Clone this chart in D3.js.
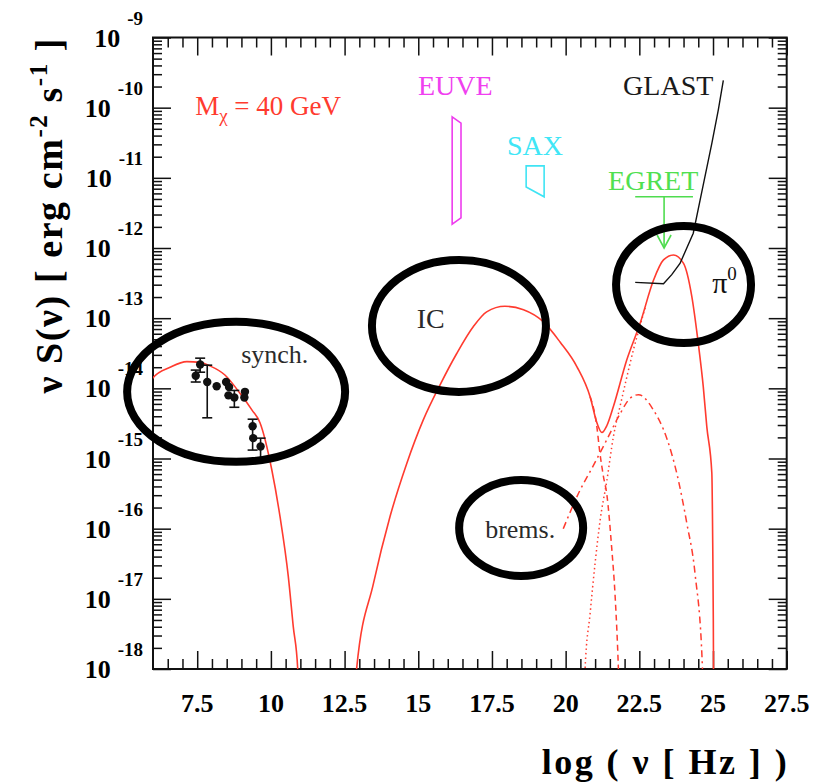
<!DOCTYPE html>
<html>
<head>
<meta charset="utf-8">
<script src="https://cdn.jsdelivr.net/npm/d3@7"></script>
<style>
  body { margin: 0; background: #fff; }
  svg { display: block; }
</style>
</head>
<body>
<div id="chart"></div>
<script>
// SED of a dark matter halo, M_chi = 40 GeV
// all pairs are [log10(nu / Hz), log10(nu S(nu) / erg cm^-2 s^-1)]

const synchCurve = [[5.95,-13.90],[6.0,-13.85],[6.58,-13.70],[7.15,-13.62],[7.59,-13.63],[7.93,-13.68],[8.44,-13.81],[8.95,-14.07],[9.36,-14.31],[9.63,-14.49],[10.03,-15.16],[10.31,-15.83],[10.59,-16.68],[10.76,-17.40],[10.91,-18.0],[10.95,-18.6]];

const totalCurve = [[12.86,-18.3],[12.91,-17.99],[13.48,-16.78],[14.04,-15.83],[14.61,-15.07],[15.17,-14.45],[15.74,-13.95],[16.31,-13.50],[16.87,-13.12],[17.32,-12.91],[17.94,-12.83],[18.57,-12.88],[19.24,-13.05],[19.81,-13.34],[20.38,-13.69],[20.83,-14.12],[21.06,-14.49],[21.23,-14.63],[21.40,-14.53],[21.62,-14.26],[22.07,-13.60],[22.53,-13.07],[22.98,-12.46],[23.32,-12.17],[23.66,-12.10],[24.00,-12.22],[24.28,-12.69],[24.50,-13.36],[24.67,-13.98],[24.79,-14.55],[24.96,-15.21],[24.99,-16.2],[25.01,-17.3],[25.02,-18.3]];

const icTail = [[20.83,-14.12],[21.06,-14.55],[21.15,-14.88],[21.28,-15.25],[21.40,-15.52],[21.56,-16.26],[21.68,-16.97],[21.79,-18.0],[21.82,-18.4]];

const pi0Rise = [[20.62,-18.5],[20.66,-18.0],[20.83,-17.21],[21.00,-16.49],[21.17,-15.88],[21.40,-15.31],[21.62,-14.69],[21.85,-14.25],[22.07,-13.85],[22.30,-13.45],[22.53,-13.10],[22.70,-12.85]];

const bremsCurve = [[19.92,-16.00],[20.49,-15.45],[20.89,-15.14],[21.40,-14.73],[21.85,-14.36],[22.19,-14.14],[22.47,-14.09],[22.98,-14.31],[23.43,-14.71],[23.77,-15.21],[24.11,-15.92],[24.39,-16.64],[24.64,-17.97],[24.67,-18.4]];

// radio data points (synchrotron)
const dataLogNu = [7.45, 7.60, 7.84, 8.16, 8.48, 8.58, 8.56, 8.76, 9.12, 9.10, 9.38, 9.40, 9.65];
const dataLogS  = [-13.82, -13.66, -13.91, -13.97, -13.91, -13.98, -14.10, -14.13, -14.05, -14.13, -14.54, -14.71, -14.83];
const errLo     = [-13.91, -13.77, -14.42, null, null, null, null, -14.27, null, null, -14.88, null, -15.01];
const errHi     = [-13.74, -13.57, -13.67, null, null, null, null, -14.03, null, null, -14.44, null, -14.71];

// instrument sensitivities
const euveBox = [[16.15,-10.13],[16.45,-10.22],[16.45,-11.57],[16.15,-11.66]];
const saxBox = [[18.66,-10.83],[19.27,-10.83],[19.27,-11.27],[18.66,-11.13]];
const egretBar = [[22.36,-11.27],[24.32,-11.27]];
const egretArrow = [[23.34,-11.27],[23.34,-12.0]];
const glastCurve = [[22.36,-12.49],[23.32,-12.51],[23.60,-12.38],[23.88,-12.22],[24.33,-11.79],[24.56,-11.32],[24.96,-10.51],[25.18,-10.03],[25.35,-9.61]];

// axes
const xMajor = [7.5, 10, 12.5, 15, 17.5, 20, 22.5, 25, 27.5];
const xLabels = ['7.5', '10', '12.5', '15', '17.5', '20', '22.5', '25', '27.5'];
const yDecades = [-18, -17, -16, -15, -14, -13, -12, -11, -10, -9];

const W = 825, H = 784;
const P = { left: 153, top: 37.5, right: 786.7, bottom: 669 };
const RED = '#ff3b2f';
const SERIF = '"Liberation Serif", "Times New Roman", serif';

const x = d3.scaleLinear().domain([6, 27.5]).range([P.left, P.right]);
const y = d3.scaleLog().domain([1e-18, 1e-9]).range([P.bottom, P.top]);
const Y = v => y(Math.pow(10, v));

const svg = d3.select('#chart').append('svg')
    .attr('width', W).attr('height', H)
    .style('font-family', SERIF);

svg.append('defs').append('clipPath').attr('id', 'plot-clip')
  .append('rect')
    .attr('x', P.left).attr('y', P.top)
    .attr('width', P.right - P.left).attr('height', P.bottom - P.top);

// ticks
const xMinor = d3.range(6.5, 27.5, 0.5).filter(v => !xMajor.includes(v));
const yMinor = [];
yDecades.slice(0, -1).forEach(d => { for (let k = 2; k <= 9; k++) yMinor.push(k * Math.pow(10, d)); });
const yMajor = yDecades.map(d => Math.pow(10, d));

const axes = svg.append('g').attr('class', 'axes');
function tickAxis(axisFn, scale, values, len, transform) {
    const g = axes.append('g').attr('transform', transform)
        .call(axisFn(scale).tickValues(values).tickSize(-len).tickSizeOuter(0).tickFormat(''));
    g.select('.domain').remove();
    g.selectAll('.tick line').attr('stroke', '#111').attr('stroke-width', 1.5);
}
tickAxis(d3.axisBottom, x, xMinor, 10, `translate(0,${P.bottom})`);
tickAxis(d3.axisBottom, x, xMajor, 18, `translate(0,${P.bottom})`);
tickAxis(d3.axisTop, x, xMinor, 10, `translate(0,${P.top})`);
tickAxis(d3.axisTop, x, xMajor, 18, `translate(0,${P.top})`);
tickAxis(d3.axisLeft, y, yMinor, 9, `translate(${P.left},0)`);
tickAxis(d3.axisLeft, y, yMajor, 18, `translate(${P.left},0)`);
tickAxis(d3.axisRight, y, yMinor, 9, `translate(${P.right},0)`);
tickAxis(d3.axisRight, y, yMajor, 18, `translate(${P.right},0)`);

axes.append('rect')
    .attr('x', P.left).attr('y', P.top)
    .attr('width', P.right - P.left).attr('height', P.bottom - P.top)
    .attr('fill', 'none').attr('stroke', '#111').attr('stroke-width', 2);

// tick labels
xMajor.forEach((v, i) => {
    axes.append('text')
        .attr('x', x(v)).attr('y', 712)
        .attr('text-anchor', 'middle')
        .attr('font-size', 26).attr('font-weight', 700)
        .text(xLabels[i]);
});
yDecades.forEach(d => {
    const t = axes.append('text')
        .attr('x', 143).attr('y', Y(d) + 9)
        .attr('text-anchor', 'end')
        .attr('font-weight', 700);
    t.append('tspan').attr('font-size', 26).text('10');
    t.append('tspan').attr('font-size', 19).attr('dx', 7).attr('dy', -22).text(String(d));
});

// axis titles
axes.append('text')
    .attr('x', P.right).attr('y', 774)
    .attr('text-anchor', 'end')
    .attr('font-size', 36).attr('font-weight', 700)
    .attr('textLength', 245).attr('lengthAdjust', 'spacing')
    .text('log ( ν [ Hz ] )');

const yt = axes.append('text')
    .attr('transform', 'translate(62,216) rotate(-90)')
    .attr('text-anchor', 'middle')
    .attr('font-size', 38).attr('font-weight', 700)
    .attr('textLength', 355).attr('lengthAdjust', 'spacing');
yt.append('tspan').text('ν  S(ν) [ erg  cm');
yt.append('tspan').attr('font-size', 25).attr('dy', -15).text('-2');
yt.append('tspan').attr('dy', 15).text(' s');
yt.append('tspan').attr('font-size', 25).attr('dy', -15).text('-1');
yt.append('tspan').attr('dy', 15).text(' ]');

// curves
const plot = svg.append('g').attr('clip-path', 'url(#plot-clip)');
const smooth = d3.line().x(d => x(d[0])).y(d => Y(d[1])).curve(d3.curveMonotoneX);
const straight = d3.line().x(d => x(d[0])).y(d => Y(d[1]));

plot.append('path').attr('d', smooth(bremsCurve))
    .attr('fill', 'none').attr('stroke', RED).attr('stroke-width', 1.5)
    .attr('stroke-dasharray', '7,4,2,4');
plot.append('path').attr('d', smooth(icTail))
    .attr('fill', 'none').attr('stroke', RED).attr('stroke-width', 1.5)
    .attr('stroke-dasharray', '6,4');
plot.append('path').attr('d', smooth(pi0Rise))
    .attr('fill', 'none').attr('stroke', RED).attr('stroke-width', 1.5)
    .attr('stroke-dasharray', '1.5,3');
[synchCurve, totalCurve].forEach(c => {
    plot.append('path').attr('d', smooth(c))
        .attr('fill', 'none').attr('stroke', RED).attr('stroke-width', 1.6);
});

// instruments
plot.append('path').attr('d', straight(euveBox) + 'Z')
    .attr('fill', 'none').attr('stroke', '#ee3cee').attr('stroke-width', 1.6);
plot.append('path').attr('d', straight(saxBox) + 'Z')
    .attr('fill', 'none').attr('stroke', '#3fe4f4').attr('stroke-width', 1.6);
plot.append('path').attr('d', straight(egretBar))
    .attr('fill', 'none').attr('stroke', '#4fdc4f').attr('stroke-width', 1.6);
plot.append('path').attr('d', straight(egretArrow))
    .attr('fill', 'none').attr('stroke', '#4fdc4f').attr('stroke-width', 1.6);
{
    const [ax, ay] = egretArrow[1];
    const tx = x(ax), ty = Y(ay);
    plot.append('path')
        .attr('d', `M${tx - 7},${ty - 13}L${tx},${ty}L${tx + 7},${ty - 13}`)
        .attr('fill', 'none').attr('stroke', '#4fdc4f').attr('stroke-width', 1.6);
}
plot.append('path').attr('d', straight(glastCurve))
    .attr('fill', 'none').attr('stroke', '#111').attr('stroke-width', 1.4);

// data points with error bars
const pts = plot.append('g');
dataLogNu.forEach((nu, i) => {
    const cx = x(nu);
    if (errLo[i] !== null) {
        const y0 = Y(errLo[i]), y1 = Y(errHi[i]);
        pts.append('line').attr('x1', cx).attr('x2', cx).attr('y1', y0).attr('y2', y1)
            .attr('stroke', '#111').attr('stroke-width', 1.6);
        [y0, y1].forEach(yy => pts.append('line')
            .attr('x1', cx - 5).attr('x2', cx + 5).attr('y1', yy).attr('y2', yy)
            .attr('stroke', '#111').attr('stroke-width', 1.6));
    }
    pts.append('circle').attr('cx', cx).attr('cy', Y(dataLogS[i])).attr('r', 4.2).attr('fill', '#111');
});

// annotations
const ann = svg.append('g');
function label(txt, lx, ly, color, size) {
    return ann.append('text').attr('x', x(lx)).attr('y', Y(ly))
        .attr('fill', color).attr('font-size', size).text(txt);
}
label('EUVE', 14.99, -9.82, '#f040f0', 28);
label('SAX', 18.01, -10.68, '#40e6f6', 28);
label('EGRET', 21.44, -11.17, '#50e050', 28);
label('GLAST', 21.95, -9.82, '#1a1a1a', 28);
label('synch.', 8.99, -13.64, '#2a2a2a', 26);
label('IC', 14.95, -13.14, '#2a2a2a', 28);
label('brems.', 17.27, -16.13, '#2a2a2a', 26);
{
    const t = ann.append('text').attr('x', x(24.97)).attr('y', Y(-12.64))
        .attr('fill', '#111').attr('font-size', 30);
    t.append('tspan').text('π');
    t.append('tspan').attr('font-size', 19).attr('dy', -13).text('0');
}
{
    const t = ann.append('text').attr('x', x(7.43)).attr('y', Y(-10.10))
        .attr('fill', RED).attr('font-size', 27);
    t.append('tspan').text('M');
    t.append('tspan').attr('font-size', 19).attr('dy', 7).text('χ');
    t.append('tspan').attr('dy', -7).text(' = 40 GeV');
}

// highlight ellipses
const ellipses = [
    { cx: 8.82, cy: -14.05, rx: 109, ry: 70 },
    { cx: 16.38, cy: -13.11, rx: 87, ry: 66 },
    { cx: 18.49, cy: -15.99, rx: 62, ry: 48 },
    { cx: 24.00, cy: -12.52, rx: 67.5, ry: 58.5 }
];
ann.selectAll('ellipse.hl').data(ellipses).enter().append('ellipse')
    .attr('class', 'hl')
    .attr('cx', d => x(d.cx)).attr('cy', d => Y(d.cy))
    .attr('rx', d => d.rx).attr('ry', d => d.ry)
    .attr('fill', 'none').attr('stroke', '#000').attr('stroke-width', 8);
</script>
</body>
</html>
